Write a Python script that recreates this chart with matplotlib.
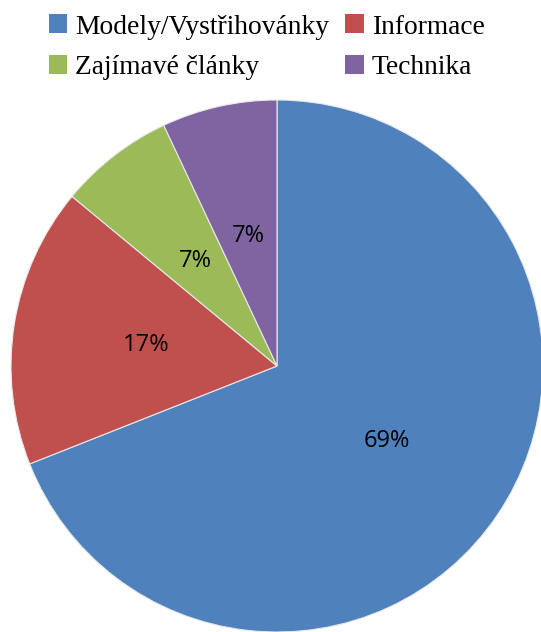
import matplotlib
matplotlib.use("Agg")
import matplotlib.pyplot as plt
from matplotlib.patches import Patch

categories = ["Modely/Vystřihovánky", "Informace", "Zajímavé články", "Technika"]
values = [69, 17, 7, 7]
colors = ["#4F81BD", "#C0504D", "#9BBB59", "#8064A2"]

W, H = 541, 632
fig = plt.figure(figsize=(W / 100, H / 100), dpi=100)
cx, cy, r = 277, 366, 266
ax = fig.add_axes([(cx - r) / W, (H - cy - r) / H, 2 * r / W, 2 * r / H])
wedges, texts, autotexts = ax.pie(
    values, colors=colors, startangle=90, counterclock=False,
    autopct="%1.0f%%", pctdistance=0.5,
    wedgeprops=dict(edgecolor="#E8E8E8", linewidth=0.8),
    textprops=dict(fontsize=17, family="Open Sans", color="black"),
    radius=1.0)
ax.set_xlim(-1, 1)
ax.set_ylim(-1, 1)
ax.set_aspect("equal")
ax.axis("off")

# legend is filled row by row in the reference
order = [0, 2, 1, 3]
handles = [Patch(facecolor=colors[i], edgecolor="none") for i in order]
labels = [categories[i] for i in order]
leg = fig.legend(handles, labels, loc="upper left", ncol=2,
                 bbox_to_anchor=(43 / W, 1.0 - 9 / H), frameon=False,
                 prop=dict(family="Liberation Serif", size=19.8),
                 handlelength=0.68, handleheight=0.68, handletextpad=0.28,
                 columnspacing=0.6, labelspacing=0.55, borderaxespad=0.0,
                 borderpad=0.2)
fig.savefig("out.png", dpi=100)
